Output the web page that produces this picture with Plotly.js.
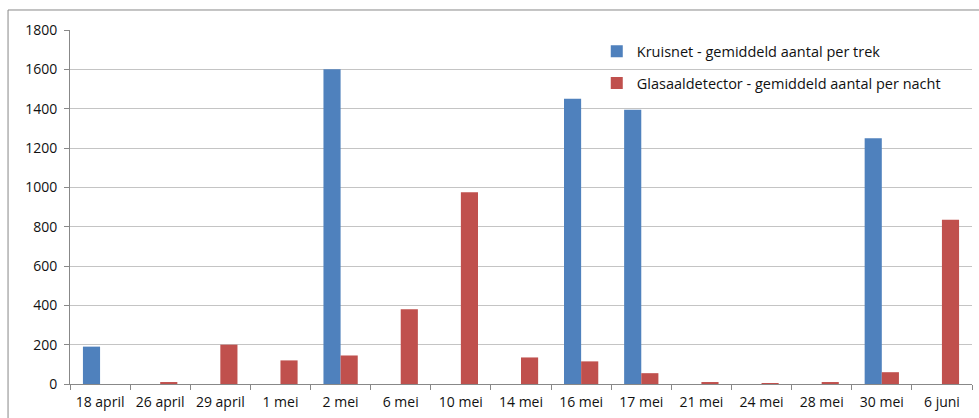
<!DOCTYPE html>
<html><head><meta charset="utf-8">
<script src="https://cdn.plot.ly/plotly-3.0.1.min.js"></script>
<style>body{margin:0;background:#fff}#c{width:979px;height:418px}</style>
</head><body><div id="c"></div>
<script>
const categories = ["18 april","26 april","29 april","1 mei","2 mei","6 mei","10 mei","14 mei","16 mei","17 mei","21 mei","24 mei","28 mei","30 mei","6 juni"];
const kruisnet = [190,null,null,null,1600,null,null,null,1450,1395,null,null,null,1250,null];
const glasaal = [null,10,200,120,145,380,975,135,115,55,10,5,10,60,835];
const yTicks = [0,200,400,600,800,1000,1200,1400,1600,1800];

const font = {family:"Open Sans, Liberation Sans, sans-serif", size:14, color:"#111"};
const data = [
  {type:"bar", name:"Kruisnet - gemiddeld aantal per trek", x:categories, y:kruisnet, marker:{color:"#4F81BD"}, legendgroup:"a"},
  {type:"bar", name:"Glasaaldetector - gemiddeld aantal per nacht", x:categories, y:glasaal, marker:{color:"#C0504D"}, legendgroup:"b"}
];
const layout = {
  width:979, height:418,
  margin:{l:70, r:7, t:30, b:34},
  paper_bgcolor:"#fff", plot_bgcolor:"#fff",
  barmode:"group", bargap:0.43, bargroupgap:0,
  font:font,
  showlegend:true,
  legend:{x:0.584, y:0.985, xanchor:"left", yanchor:"top", bgcolor:"rgba(0,0,0,0)", font:{family:"Open Sans, Liberation Sans, sans-serif", size:14.5, color:"#111"}, traceorder:"grouped", tracegroupgap:10, itemwidth:30},
  xaxis:{type:"category", tickson:"boundaries", ticks:"outside", ticklen:5, tickcolor:"#888", showline:true, linecolor:"#888", linewidth:1, showgrid:false, tickfont:font, ticklabelstandoff:5, fixedrange:true},
  yaxis:{range:[0,1800], tickvals:yTicks, ticks:"outside", ticklen:5, tickcolor:"#888", showline:true, linecolor:"#888", linewidth:1, showgrid:true, gridcolor:"#c4c4c4", gridwidth:1, zeroline:false, tickfont:font, ticklabelstandoff:4, fixedrange:true},
  shapes:[{type:"rect", xref:"paper", yref:"paper", x0:-0.0687, x1:1.05, y0:-0.3, y1:1.0565, line:{color:"#888", width:1}, fillcolor:"rgba(0,0,0,0)", layer:"below"}]
};
Plotly.newPlot("c", data, layout, {displayModeBar:false, staticPlot:true});
</script></body></html>
